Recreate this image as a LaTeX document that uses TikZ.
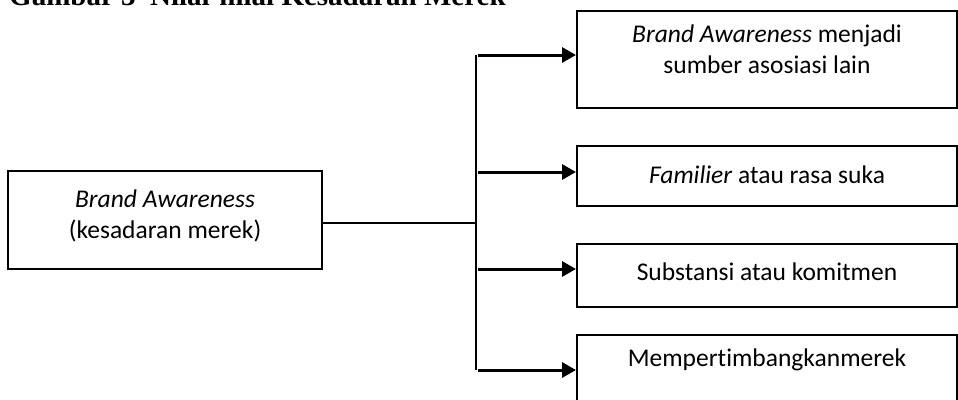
\documentclass[tikz,border=0pt]{standalone}
\usepackage{fontspec}
\setmainfont[RawFeature=-liga]{Carlito}
\newfontfamily\titlefont{Liberation Serif}
\usetikzlibrary{arrows.meta}
\begin{document}
\begin{tikzpicture}[x=1pt,y=-1pt,
  box/.style={draw=black,line width=2pt,inner sep=0pt},
  lbl/.style={font=\fontsize{25.5}{31}\selectfont,align=center,inner sep=0pt},
  arr/.style={line width=3pt,-{Triangle[length=14pt,width=15pt]}},
  ln/.style={line width=2pt}]
\useasboundingbox (0,0) rectangle (958,399);
\node[anchor=base west,inner sep=0pt,font=\titlefont\bfseries\fontsize{29}{32}\selectfont] (title) at (9,5) {Gambar 3\ \ Nilai-nilai Kesadaran Merek};
% left box
\node[box,minimum width=314pt,minimum height=98pt] (L) at (165,220) {};
\node[lbl] (Lt) at (165,216) {\textit{Brand Awareness}\\(kesadaran merek)};
% right boxes
\node[box,minimum width=380pt,minimum height=97pt] (B1) at (767,59.5) {};
\node[lbl] (B1t) at (767,49) {\textit{Brand Awareness} menjadi\\sumber asosiasi lain};
\node[box,minimum width=380pt,minimum height=60pt] (B2) at (767,176) {};
\node[lbl] (B2t) at (767,175) {\textit{Familier} atau rasa suka};
\node[box,minimum width=380pt,minimum height=63pt] (B3) at (767,275.5) {};
\node[lbl] (B3t) at (767,272) {Substansi atau komitmen};
\node[box,minimum width=380pt,minimum height=80pt] (B4) at (767,375) {};
\node[lbl] (B4t) at (767,360) {Mempertimbangkanmerek};
% connectors
\coordinate (j) at (476,223);
\coordinate (top) at (476,55);
\coordinate (bot) at (476,370);
\draw[ln] (L.east |- j) -- (j);
\draw[ln] (top) -- (bot);
\coordinate (s1) at (478,55);
\coordinate (s2) at (478,172);
\coordinate (s3) at (478,269);
\coordinate (s4) at (478,370);
\draw[arr] (s1) -- (s1 -| B1.west);
\draw[arr] (s2) -- (s2 -| B2.west);
\draw[arr] (s3) -- (s3 -| B3.west);
\draw[arr] (s4) -- (s4 -| B4.west);
\end{tikzpicture}
\end{document}
